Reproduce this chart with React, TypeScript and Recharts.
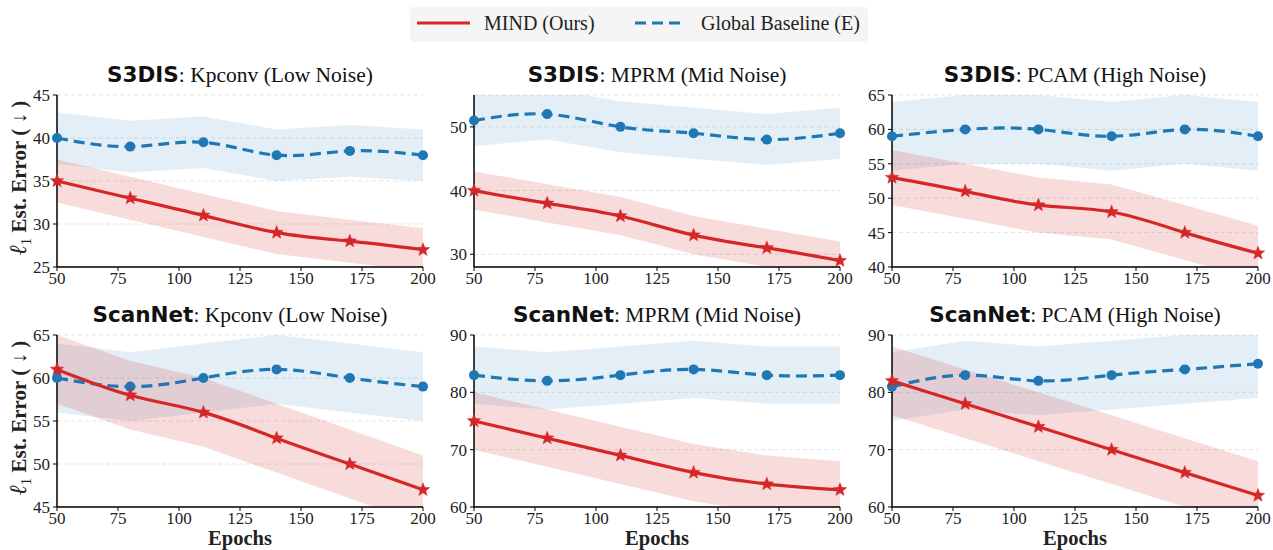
import React from 'react';
import { ComposedChart, Line, Area, XAxis, YAxis, CartesianGrid } from 'recharts';

const epochs = [50, 80, 110, 140, 170, 200];
const xTicks = [50, 75, 100, 125, 150, 175, 200];

// S3DIS
const s3disKpconvMind = [35, 33, 31, 29, 28, 27];
const s3disKpconvMindStd = [2.5, 2.5, 2.5, 2.5, 2.5, 2.5];
const s3disKpconvBase = [40, 39, 39.5, 38, 38.5, 38];
const s3disKpconvBaseStd = [3, 3, 3, 3, 3, 3];

const s3disMprmMind = [40, 38, 36, 33, 31, 29];
const s3disMprmMindStd = [3, 3, 3, 3, 3, 3];
const s3disMprmBase = [51, 52, 50, 49, 48, 49];
const s3disMprmBaseStd = [4, 4, 4, 4, 4, 4];

const s3disPcamMind = [53, 51, 49, 48, 45, 42];
const s3disPcamMindStd = [4, 4, 4, 4, 4, 4];
const s3disPcamBase = [59, 60, 60, 59, 60, 59];
const s3disPcamBaseStd = [5, 5, 5, 5, 5, 5];

// ScanNet
const scannetKpconvMind = [61, 58, 56, 53, 50, 47];
const scannetKpconvMindStd = [4, 4, 4, 4, 4, 4];
const scannetKpconvBase = [60, 59, 60, 61, 60, 59];
const scannetKpconvBaseStd = [4, 4, 4, 4, 4, 4];

const scannetMprmMind = [75, 72, 69, 66, 64, 63];
const scannetMprmMindStd = [5, 5, 5, 5, 5, 5];
const scannetMprmBase = [83, 82, 83, 84, 83, 83];
const scannetMprmBaseStd = [5, 5, 5, 5, 5, 5];

const scannetPcamMind = [82, 78, 74, 70, 66, 62];
const scannetPcamMindStd = [6, 6, 6, 6, 6, 6];
const scannetPcamBase = [81, 83, 82, 83, 84, 85];
const scannetPcamBaseStd = [6, 6, 6, 6, 6, 6];

const RED = '#d62728';
const BLUE = '#1f77b4';
const SERIF = '"Liberation Serif", "Times New Roman", serif';
const SANS = '"DejaVu Sans", sans-serif';

function buildRows(mind: number[], mindStd: number[], base: number[], baseStd: number[]) {
    return epochs.map((epoch, i) => ({
        epoch,
        mind: mind[i],
        mindBand: [mind[i] - mindStd[i], mind[i] + mindStd[i]],
        base: base[i],
        baseBand: [base[i] - baseStd[i], base[i] + baseStd[i]]
    }));
}

const panels = [
    { dataset: 'S3DIS', method: 'Kpconv (Low Noise)', left: 57, top: 95, domain: [25, 45], ticks: [25, 30, 35, 40, 45],
        rows: buildRows(s3disKpconvMind, s3disKpconvMindStd, s3disKpconvBase, s3disKpconvBaseStd) },
    { dataset: 'S3DIS', method: 'MPRM (Mid Noise)', left: 474, top: 95, domain: [28, 55], ticks: [30, 40, 50],
        rows: buildRows(s3disMprmMind, s3disMprmMindStd, s3disMprmBase, s3disMprmBaseStd) },
    { dataset: 'S3DIS', method: 'PCAM (High Noise)', left: 892, top: 95, domain: [40, 65], ticks: [40, 45, 50, 55, 60, 65],
        rows: buildRows(s3disPcamMind, s3disPcamMindStd, s3disPcamBase, s3disPcamBaseStd) },
    { dataset: 'ScanNet', method: 'Kpconv (Low Noise)', left: 57, top: 335, domain: [45, 65], ticks: [45, 50, 55, 60, 65],
        rows: buildRows(scannetKpconvMind, scannetKpconvMindStd, scannetKpconvBase, scannetKpconvBaseStd) },
    { dataset: 'ScanNet', method: 'MPRM (Mid Noise)', left: 474, top: 335, domain: [60, 90], ticks: [60, 70, 80, 90],
        rows: buildRows(scannetMprmMind, scannetMprmMindStd, scannetMprmBase, scannetMprmBaseStd) },
    { dataset: 'ScanNet', method: 'PCAM (High Noise)', left: 892, top: 335, domain: [60, 90], ticks: [60, 70, 80, 90],
        rows: buildRows(scannetPcamMind, scannetPcamMindStd, scannetPcamBase, scannetPcamBaseStd) }
];

const PLOT_W = 366;
const PLOT_H = 172;
const Y_AXIS_W = 45;
const PAD_TOP = 10;
const PAD_RIGHT = 20;
const X_AXIS_H = 30;

function starPath(cx: number, cy: number, outer: number, inner: number) {
    let d = '';
    for (let k = 0; k < 10; k++) {
        const r = k % 2 === 0 ? outer : inner;
        const a = -Math.PI / 2 + (k * Math.PI) / 5;
        d += (k === 0 ? 'M' : 'L') + (cx + r * Math.cos(a)).toFixed(2) + ',' + (cy + r * Math.sin(a)).toFixed(2);
    }
    return d + 'Z';
}

const StarDot = (props: any) => {
    const { cx, cy, index } = props;
    if (cx == null || cy == null) return <g key={`s-${index}`} />;
    return <path key={`s-${index}`} d={starPath(cx, cy, 7, 3)} fill={RED} stroke={RED} strokeWidth={0.5} />;
};

const CircleDot = (props: any) => {
    const { cx, cy, index } = props;
    if (cx == null || cy == null) return <g key={`c-${index}`} />;
    return <circle key={`c-${index}`} cx={cx} cy={cy} r={5} fill={BLUE} />;
};

const tickStyle = { fontSize: 17, fill: '#222', fontFamily: SERIF };

function Panel({ p, showXLabel }: { p: (typeof panels)[number]; showXLabel: boolean }) {
    const chartW = Y_AXIS_W + PLOT_W + PAD_RIGHT;
    const chartH = PAD_TOP + PLOT_H + X_AXIS_H;
    return (
        <>
            <div
                style={{
                    position: 'absolute',
                    left: p.left - 20,
                    width: PLOT_W + 40,
                    top: p.top - 33,
                    textAlign: 'center',
                    fontSize: 21.5,
                    lineHeight: '26px',
                    color: '#111',
                    whiteSpace: 'nowrap'
                }}
            >
                <span style={{ fontFamily: SANS, fontWeight: 'bold' }}>{p.dataset}</span>
                <span style={{ fontFamily: SERIF }}>: {p.method}</span>
            </div>
            <div style={{ position: 'absolute', left: p.left - Y_AXIS_W, top: p.top - PAD_TOP }}>
                <ComposedChart
                    width={chartW}
                    height={chartH}
                    data={p.rows}
                    margin={{ top: PAD_TOP, right: PAD_RIGHT, left: 0, bottom: 0 }}
                >
                    <CartesianGrid vertical={false} strokeDasharray="4 3" stroke="#dcdcdc" strokeWidth={0.8} />
                    <XAxis
                        dataKey="epoch"
                        type="number"
                        domain={[50, 200]}
                        ticks={xTicks}
                        height={X_AXIS_H}
                        tick={tickStyle}
                        tickSize={4}
                        tickMargin={1}
                        axisLine={{ stroke: '#000', strokeWidth: 1.5 }}
                        tickLine={{ stroke: '#000' }}
                        interval={0}
                    />
                    <YAxis
                        type="number"
                        domain={p.domain}
                        ticks={p.ticks}
                        allowDataOverflow
                        width={Y_AXIS_W}
                        tick={tickStyle}
                        tickSize={4}
                        tickMargin={3}
                        axisLine={{ stroke: '#000', strokeWidth: 1.5 }}
                        tickLine={{ stroke: '#000' }}
                        interval={0}
                    />
                    <Area dataKey="baseBand" type="linear" stroke="none" fill={BLUE} fillOpacity={0.12} isAnimationActive={false} />
                    <Area dataKey="mindBand" type="linear" stroke="none" fill={RED} fillOpacity={0.16} isAnimationActive={false} />
                    <Line
                        dataKey="base"
                        type="natural"
                        stroke={BLUE}
                        strokeWidth={3.2}
                        strokeDasharray="11 6"
                        dot={CircleDot}
                        activeDot={false}
                        isAnimationActive={false}
                    />
                    <Line
                        dataKey="mind"
                        type="natural"
                        stroke={RED}
                        strokeWidth={3.2}
                        dot={StarDot}
                        activeDot={false}
                        isAnimationActive={false}
                    />
                </ComposedChart>
            </div>
            {showXLabel && (
                <div
                    style={{
                        position: 'absolute',
                        left: p.left,
                        width: PLOT_W,
                        top: p.top + PLOT_H + 19,
                        textAlign: 'center',
                        fontFamily: SERIF,
                        fontWeight: 'bold',
                        fontSize: 20.5,
                        lineHeight: '24px',
                        color: '#222'
                    }}
                >
                    Epochs
                </div>
            )}
        </>
    );
}

function YLabel({ centerY }: { centerY: number }) {
    return (
        <div
            style={{
                position: 'absolute',
                left: 20,
                top: centerY,
                transform: 'translate(-50%, -50%) rotate(-90deg)',
                fontFamily: SERIF,
                fontWeight: 'bold',
                fontSize: 21,
                whiteSpace: 'nowrap',
                color: '#222'
            }}
        >
            <span style={{ fontStyle: 'italic', fontWeight: 'normal', fontSize: 24 }}>ℓ</span>
            <sub style={{ fontSize: 15, fontWeight: 'normal' }}>1</sub> Est. Error ( ↓ )
        </div>
    );
}

export default function App() {
    return (
        <div style={{ position: 'absolute', left: 0, top: 0, width: 1273, height: 550, background: '#fff', overflow: 'hidden' }}>
            <div
                style={{
                    position: 'absolute',
                    left: 410,
                    top: 7,
                    width: 458,
                    height: 35,
                    background: '#f5f5f5',
                    borderRadius: 4,
                    fontFamily: SERIF,
                    fontSize: 20,
                    color: '#222'
                }}
            >
                <svg width={458} height={35} style={{ position: 'absolute', left: 0, top: 0 }}>
                    <line x1={7} x2={60} y1={16} y2={16} stroke={RED} strokeWidth={3.2} />
                    <line x1={225} x2={276} y1={16} y2={16} stroke={BLUE} strokeWidth={3.2} strokeDasharray="11 6" />
                </svg>
                <span style={{ position: 'absolute', left: 74, top: 3, lineHeight: '26px' }}>MIND (Ours)</span>
                <span style={{ position: 'absolute', left: 291, top: 3, lineHeight: '26px' }}>Global Baseline (E)</span>
            </div>
            <YLabel centerY={178} />
            <YLabel centerY={418} />
            {panels.map((p, i) => (
                <Panel key={i} p={p} showXLabel={i >= 3} />
            ))}
        </div>
    );
}
